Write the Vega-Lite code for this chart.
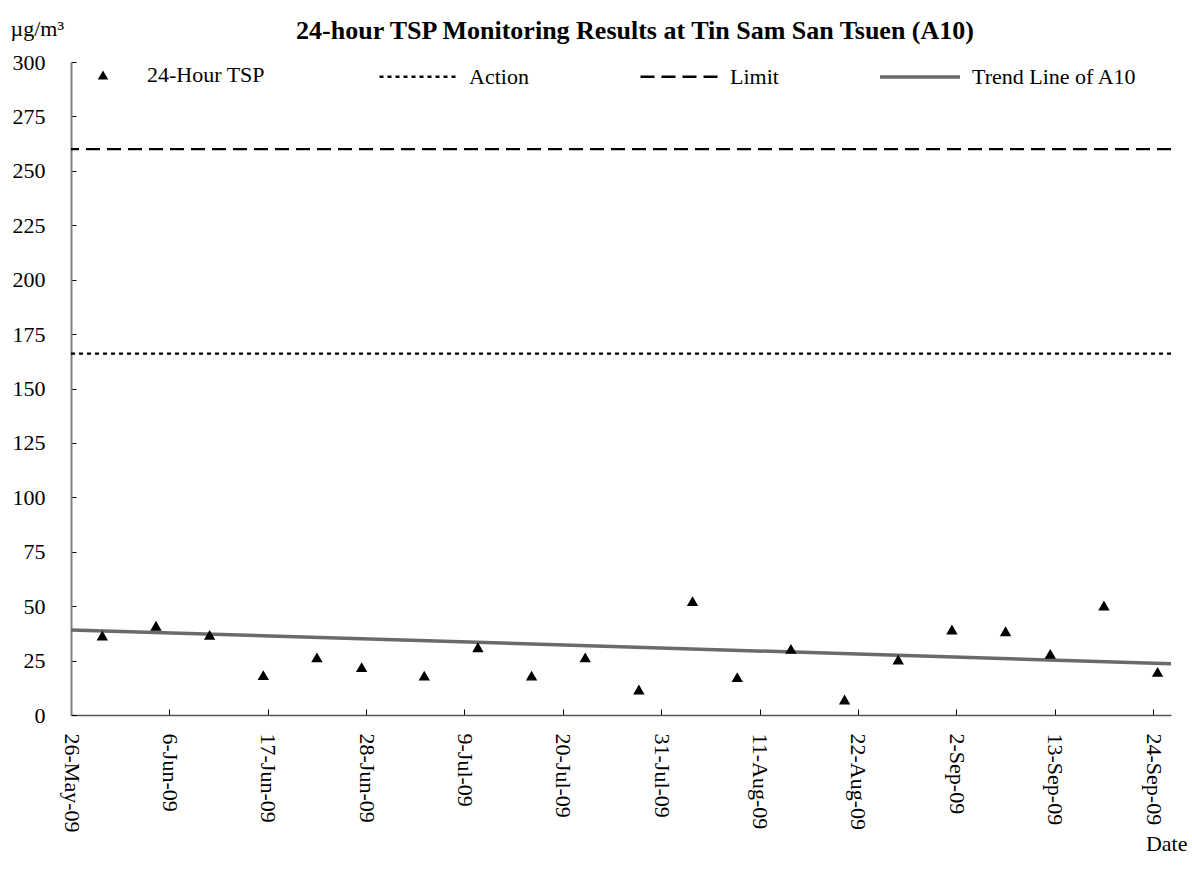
{
  "$schema": "https://vega.github.io/schema/vega-lite/v6.json",
  "width": 1100,
  "height": 653,
  "autosize": {"type": "none"},
  "padding": {"left": 71, "top": 62, "right": 21, "bottom": 154},
  "background": "white",
  "title": {
    "text": "24-hour TSP Monitoring Results at Tin Sam San Tsuen (A10)",
    "font": "Liberation Serif",
    "fontSize": 26,
    "fontWeight": "bold",
    "color": "black",
    "anchor": "middle",
    "dx": 14,
    "dy": 68,
    "offset": 20,
    "baseline": "alphabetic"
  },
  "config": {
    "view": {"stroke": null},
    "font": "Liberation Serif",
    "axis": {
      "labelFont": "Liberation Serif",
      "labelFontSize": 22,
      "labelColor": "black",
      "titleFont": "Liberation Serif",
      "titleFontSize": 22,
      "titleFontWeight": "normal",
      "titleColor": "black",
      "grid": false,
      "tickColor": "black",
      "tickWidth": 1
    },
    "legend": {
      "labelFont": "Liberation Serif",
      "labelFontSize": 22,
      "labelColor": "black",
      "labelLimit": 400,
      "padding": 0,
      "titlePadding": 0
    }
  },
  "layer": [
    {
      "data": {"values": [
        {"series": "Action", "level": 166},
        {"series": "Limit", "level": 260}
      ]},
      "mark": {"type": "rule", "strokeWidth": 2.2, "color": "black"},
      "encoding": {
        "y": {
          "field": "level", "type": "quantitative",
          "scale": {"domain": [0, 300], "nice": false, "zero": true},
          "axis": {
            "title": "µg/m³", "titleAngle": 0, "titleAlign": "left", "titleBaseline": "alphabetic",
            "titleX": -61, "titleY": -27,
            "values": [0, 25, 50, 75, 100, 125, 150, 175, 200, 225, 250, 275, 300],
            "tickSize": -5, "labelPadding": 31,
            "domainColor": "#808080", "domainWidth": 2
          }
        },
        "strokeDash": {
          "field": "series", "type": "nominal",
          "scale": {"domain": ["Action", "Limit"], "range": [[4, 4], [14, 7]]},
          "legend": {
            "title": null, "orient": "none", "legendX": 307, "legendY": -27,
            "direction": "horizontal", "symbolType": "stroke", "symbolSize": 6400,
            "symbolStrokeWidth": 2.5, "symbolStrokeColor": "black",
            "columnPadding": 106, "labelOffset": 8
          }
        }
      }
    },
    {
      "data": {"values": [
        {"date": "2009-05-26T00:00:00Z", "trend": 39.1},
        {"date": "2009-09-26T00:00:00Z", "trend": 23.6}
      ]},
      "mark": {"type": "line", "strokeWidth": 3.5},
      "encoding": {
        "x": {
          "field": "date", "type": "temporal",
          "scale": {"type": "utc", "domain": [
            {"year": 2009, "month": 5, "date": 26, "utc": true},
            {"year": 2009, "month": 9, "date": 26, "utc": true}
          ]},
          "axis": {
            "values": [
              {"year": 2009, "month": 5, "date": 26, "utc": true},
              {"year": 2009, "month": 6, "date": 6, "utc": true},
              {"year": 2009, "month": 6, "date": 17, "utc": true},
              {"year": 2009, "month": 6, "date": 28, "utc": true},
              {"year": 2009, "month": 7, "date": 9, "utc": true},
              {"year": 2009, "month": 7, "date": 20, "utc": true},
              {"year": 2009, "month": 7, "date": 31, "utc": true},
              {"year": 2009, "month": 8, "date": 11, "utc": true},
              {"year": 2009, "month": 8, "date": 22, "utc": true},
              {"year": 2009, "month": 9, "date": 2, "utc": true},
              {"year": 2009, "month": 9, "date": 13, "utc": true},
              {"year": 2009, "month": 9, "date": 24, "utc": true}
            ],
            "format": "%-d-%b-%y", "labelAngle": 90, "labelOverlap": false, "labelFlush": false,
            "tickSize": -6, "labelPadding": 24,
            "domainColor": "#555555", "domainWidth": 1.5,
            "title": "Date", "titleX": 1116, "titleY": 128, "titleAlign": "right",
            "titleBaseline": "middle", "titleAngle": 0
          }
        },
        "y": {
          "field": "trend", "type": "quantitative",
          "scale": {"domain": [0, 300], "nice": false, "zero": true}
        },
        "stroke": {
          "datum": "Trend Line of A10",
          "scale": {"range": ["#6a6a6a"]},
          "legend": {
            "title": null, "orient": "none", "legendX": 807, "legendY": -27,
            "symbolType": "stroke", "symbolSize": 6400, "symbolStrokeWidth": 3.5,
            "labelOffset": 10
          }
        }
      }
    },
    {
      "data": {"values": [
        {"date": "2009-05-29T12:00:00Z", "tsp": 36.5},
        {"date": "2009-06-04T12:00:00Z", "tsp": 41.0},
        {"date": "2009-06-10T12:00:00Z", "tsp": 36.8},
        {"date": "2009-06-16T12:00:00Z", "tsp": 18.3},
        {"date": "2009-06-22T12:00:00Z", "tsp": 26.5},
        {"date": "2009-06-27T12:00:00Z", "tsp": 22.0},
        {"date": "2009-07-04T12:00:00Z", "tsp": 18.1},
        {"date": "2009-07-10T12:00:00Z", "tsp": 31.1},
        {"date": "2009-07-16T12:00:00Z", "tsp": 18.1},
        {"date": "2009-07-22T12:00:00Z", "tsp": 26.5},
        {"date": "2009-07-28T12:00:00Z", "tsp": 11.7},
        {"date": "2009-08-03T12:00:00Z", "tsp": 52.3},
        {"date": "2009-08-08T12:00:00Z", "tsp": 17.4},
        {"date": "2009-08-14T12:00:00Z", "tsp": 30.4},
        {"date": "2009-08-20T12:00:00Z", "tsp": 7.1},
        {"date": "2009-08-26T12:00:00Z", "tsp": 25.5},
        {"date": "2009-09-01T12:00:00Z", "tsp": 39.3},
        {"date": "2009-09-07T12:00:00Z", "tsp": 38.5},
        {"date": "2009-09-12T12:00:00Z", "tsp": 28.1},
        {"date": "2009-09-18T12:00:00Z", "tsp": 50.3},
        {"date": "2009-09-24T12:00:00Z", "tsp": 19.8}
      ]},
      "mark": {"type": "point", "filled": true, "color": "black", "size": 130, "opacity": 1},
      "encoding": {
        "x": {
          "field": "date", "type": "temporal",
          "scale": {"type": "utc", "domain": [
            {"year": 2009, "month": 5, "date": 26, "utc": true},
            {"year": 2009, "month": 9, "date": 26, "utc": true}
          ]}
        },
        "y": {
          "field": "tsp", "type": "quantitative",
          "scale": {"domain": [0, 300], "nice": false, "zero": true}
        },
        "shape": {
          "datum": "24-Hour TSP",
          "scale": {"range": ["triangle-up"]},
          "legend": {
            "title": null, "orient": "none", "legendX": 21, "legendY": 2,
            "symbolFillColor": "black", "symbolStrokeColor": "black", "symbolSize": 110,
            "labelOffset": 33
          }
        }
      }
    }
  ]
}
